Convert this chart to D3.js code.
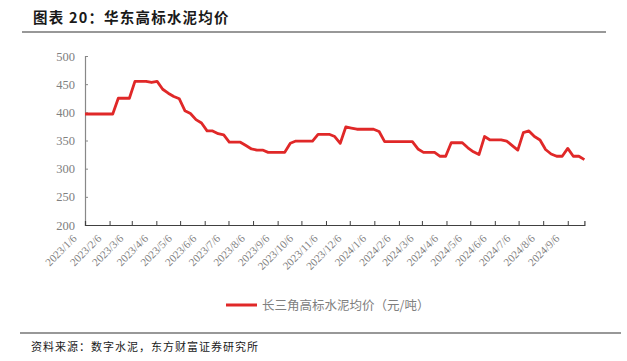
<!DOCTYPE html>
<html><head><meta charset="utf-8">
<script src="https://cdn.jsdelivr.net/npm/d3@7"></script>
<style>
html,body{margin:0;padding:0;background:#fff;}
svg{display:block;}
</style></head>
<body><div id="chart"></div>
<script>
const title = "图表 20：华东高标水泥均价";
const seriesName = "长三角高标水泥均价（元/吨）";
const source = "资料来源：数字水泥，东方财富证券研究所";
const dates = ["2023/1/6","2023/1/13","2023/1/20","2023/1/27","2023/2/3","2023/2/10","2023/2/17","2023/2/24","2023/3/3","2023/3/10","2023/3/17","2023/3/24","2023/3/31","2023/4/7","2023/4/14","2023/4/21","2023/4/28","2023/5/5","2023/5/12","2023/5/19","2023/5/26","2023/6/2","2023/6/9","2023/6/16","2023/6/23","2023/6/30","2023/7/7","2023/7/14","2023/7/21","2023/7/28","2023/8/4","2023/8/11","2023/8/18","2023/8/25","2023/9/1","2023/9/8","2023/9/15","2023/9/22","2023/9/29","2023/10/6","2023/10/13","2023/10/20","2023/10/27","2023/11/3","2023/11/10","2023/11/17","2023/11/24","2023/12/1","2023/12/8","2023/12/15","2023/12/22","2023/12/29","2024/1/5","2024/1/12","2024/1/19","2024/1/26","2024/2/2","2024/2/9","2024/2/16","2024/2/23","2024/3/1","2024/3/8","2024/3/15","2024/3/22","2024/3/29","2024/4/5","2024/4/12","2024/4/19","2024/4/26","2024/5/3","2024/5/10","2024/5/17","2024/5/24","2024/5/31","2024/6/7","2024/6/14","2024/6/21","2024/6/28","2024/7/5","2024/7/12","2024/7/19","2024/7/26","2024/8/2","2024/8/9","2024/8/16","2024/8/23","2024/8/30","2024/9/6","2024/9/13","2024/9/20","2024/9/27"];
const prices = [397,397,397,397,397,397,425,425,425,455,455,455,453,455,441,434,428,424,403,398,387,381,367,367,362,360,347,347,347,341,335,333,333,329,329,329,329,345,349,349,349,349,361,361,361,357,345,374,372,370,370,370,370,366,348,348,348,348,348,348,335,329,329,329,322,322,346,346,346,337,330,325,357,351,351,351,349,341,333,364,367,357,351,334,326,322,322,336,322,322,316];
const xTickLabels = ["2023/1/6","2023/2/6","2023/3/6","2023/4/6","2023/5/6","2023/6/6","2023/7/6","2023/8/6","2023/9/6","2023/10/6","2023/11/6","2023/12/6","2024/1/6","2024/2/6","2024/3/6","2024/4/6","2024/5/6","2024/6/6","2024/7/6","2024/8/6","2024/9/6"];
const yTicks = [200,250,300,350,400,450,500];

const W = 627, H = 361;
const parse = d3.timeParse("%Y/%-m/%-d");
const data = dates.map((d,i)=>({date:parse(d), v:prices[i]}));

const svg = d3.select("#chart").append("svg").attr("width",W).attr("height",H);

// title
svg.append("text").attr("x",33).attr("y",23)
  .attr("font-family","'Noto Sans CJK SC'").attr("font-weight","bold")
  .attr("font-size",14.5).attr("letter-spacing",1.2).attr("fill","#1a1a1a").text(title);
svg.append("line").attr("x1",22).attr("x2",606).attr("y1",32).attr("y2",32)
  .attr("stroke","#333").attr("stroke-width",1.2);

const x = d3.scaleTime().domain([parse("2023/1/6"), parse("2024/9/27")]).range([85, 584.4]);
const y = d3.scaleLinear().domain([200,500]).range([225,56]);

// y axis
const yAxis = d3.axisLeft(y).tickValues(yTicks).tickSize(-3).tickPadding(10);
const gy = svg.append("g").attr("transform","translate(85,0)").call(yAxis);
gy.select(".domain").attr("stroke","#888").attr("stroke-width",1.2);
gy.selectAll(".tick line").attr("stroke","#888");
gy.selectAll("text").attr("font-family","'Liberation Serif'").attr("font-size",12.5).attr("fill","#808080");

// x axis
const tickDates = xTickLabels.map(parse);
const xAxis = d3.axisBottom(x).tickValues(tickDates).tickSize(-4).tickFormat((d,i)=>xTickLabels[i]);
const gx = svg.append("g").attr("transform","translate(0,225)").call(xAxis);
gx.select(".domain").attr("stroke","#404040").attr("stroke-width",1.2);
gx.selectAll(".tick line").attr("stroke","#404040");
gx.selectAll("text")
  .attr("font-family","'Liberation Serif'").attr("font-size",11).attr("fill","#808080")
  .attr("text-anchor","end").attr("y",0).attr("dy",0)
  .attr("transform","translate(-8,14) rotate(-45)");

// line
svg.append("path").datum(data)
  .attr("fill","none").attr("stroke","#E02828").attr("stroke-width",2.8)
  .attr("stroke-linejoin","round")
  .attr("d", d3.line().x(d=>x(d.date)).y(d=>y(d.v)));

// legend
svg.append("line").attr("x1",226).attr("x2",257).attr("y1",305).attr("y2",305)
  .attr("stroke","#E02828").attr("stroke-width",3);
svg.append("text").attr("x",262).attr("y",309.5)
  .attr("font-family","'Noto Sans CJK SC'").attr("font-size",12.5).attr("fill","#808080").text(seriesName);

// bottom
svg.append("line").attr("x1",20).attr("x2",621).attr("y1",333).attr("y2",333)
  .attr("stroke","#333").attr("stroke-width",1.2);
svg.append("text").attr("x",31).attr("y",351)
  .attr("font-family","'Noto Sans CJK SC'").attr("font-size",11).attr("letter-spacing",1)
  .attr("fill","#1a1a1a").text(source);
</script></body></html>
